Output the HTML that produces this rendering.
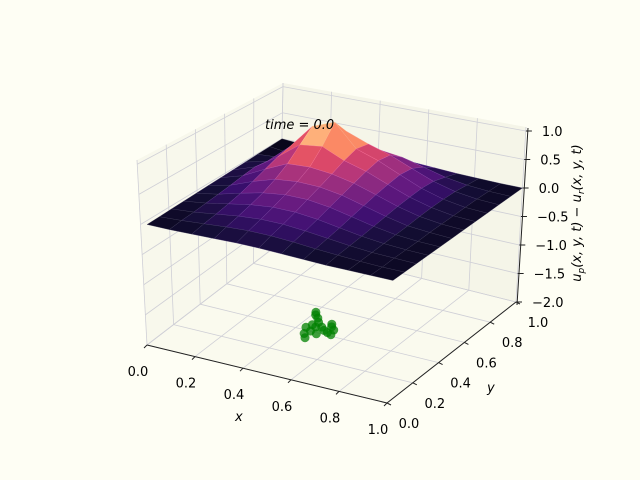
<!DOCTYPE html>
<html><head><meta charset="utf-8"><style>
html,body{margin:0;padding:0;background:#fefef4;}
svg{display:block;font-family:"DejaVu Sans","Liberation Sans",sans-serif;}
</style></head><body>
<svg id="chart" width="640" height="480" viewBox="0 0 640 480" xmlns="http://www.w3.org/2000/svg">
<rect width="640" height="480" fill="#fefef4"/>
<g id="panes"></g>
<g id="grid"></g>
<g id="points"></g>
<g id="surface"></g>
<g id="axes"></g>
<text x="265" y="129" font-size="13" font-style="italic">time = 0.0</text>
<text x="235" y="421" font-size="13" font-style="italic">x</text>
<text x="487" y="392" font-size="13" font-style="italic">y</text>
<text transform="translate(581,213) rotate(-90)" text-anchor="middle" font-size="13" font-style="italic">u<tspan font-size="9" dy="3">p</tspan><tspan dy="-3">(x, y, t) − u</tspan><tspan font-size="9" dy="3">r</tspan><tspan dy="-3">(x, y, t)</tspan></text>
</svg>
<script>
const xTicks=[0,0.2,0.4,0.6,0.8,1.0];
const yTicks=[0,0.2,0.4,0.6,0.8,1.0];
const zTicks=[-2.0,-1.5,-1.0,-0.5,0.0,0.5,1.0];
const gridX=[0,0.0909,0.1818,0.2727,0.3636,0.4545,0.5455,0.6364,0.7273,0.8182,0.9091,1];
const gridY=[0,0.0909,0.1818,0.2727,0.3636,0.4545,0.5455,0.6364,0.7273,0.8182,0.9091,1];
const surfZ=[
[0,0,0.01,0.02,0.03,0.03,0.02,0.01,0,0,0,0],
[0,0.02,0.05,0.08,0.10,0.10,0.08,0.05,0.03,0.01,0,0],
[0,0.03,0.08,0.13,0.16,0.16,0.13,0.09,0.05,0.02,0.01,0],
[0,0.05,0.12,0.19,0.23,0.23,0.19,0.13,0.07,0.03,0.01,0],
[0,0.07,0.17,0.26,0.31,0.31,0.26,0.18,0.10,0.04,0.01,0],
[0,0.09,0.24,0.36,0.40,0.39,0.33,0.23,0.13,0.05,0.02,0],
[0,0.12,0.32,0.50,0.52,0.48,0.40,0.28,0.16,0.07,0.02,0],
[0,0.14,0.40,0.70,0.75,0.58,0.47,0.32,0.18,0.08,0.02,0],
[0,0.10,0.45,0.90,1.05,0.65,0.52,0.35,0.19,0.08,0.02,0],
[0,0.03,0.30,0.65,0.75,0.60,0.48,0.32,0.17,0.07,0.02,0],
[0,-0.05,0.10,0.30,0.38,0.35,0.30,0.20,0.10,0.04,0.01,0],
[0,-0.03,0,0.06,0.08,0.08,0.06,0.04,0.02,0.01,0,0]];
const ptX=[0.40,0.41,0.43,0.45,0.44,0.46,0.48,0.50,0.52,0.54,0.47,0.45,0.49,0.51,0.43,0.46,0.50,0.53];
const ptY=[0.57,0.55,0.53,0.50,0.47,0.46,0.47,0.45,0.44,0.43,0.36,0.39,0.41,0.49,0.44,0.42,0.51,0.47];

const NS="http://www.w3.org/2000/svg";
const ZLO=-2.0, ZHI=1.07;
const F00=[147,345],F10=[387,403],F01=[280,243],F11=[516,302];
const T00=[137,160],T10=[378,200],T01=[283,83],T11=[526,127];
const S00=[147,160],S10=[396,215],S01=[283,83],S11=[526,127];
function bil(a,b,c,d,u,v){const p0=[a[0]+(b[0]-a[0])*u,a[1]+(b[1]-a[1])*u];const p1=[c[0]+(d[0]-c[0])*u,c[1]+(d[1]-c[1])*u];return [p0[0]+(p1[0]-p0[0])*v,p0[1]+(p1[1]-p0[1])*v];}
function P(u,v,w){const f=bil(F00,F10,F01,F11,u,v),t=bil(T00,T10,T01,T11,u,v);return [f[0]+(t[0]-f[0])*w,f[1]+(t[1]-f[1])*w];}
function PS(u,v,w){const f=bil(F00,F10,F01,F11,u,v),t=bil(S00,S10,S01,S11,u,v);return [f[0]+(t[0]-f[0])*w,f[1]+(t[1]-f[1])*w];}
function W(z){return (z-ZLO)/(ZHI-ZLO);}
function poly(g,pts,fill,stroke,sw,name){const e=document.createElementNS(NS,'polygon');e.setAttribute('points',pts.map(p=>p[0].toFixed(1)+','+p[1].toFixed(1)).join(' '));e.setAttribute('fill',fill);e.setAttribute('stroke',stroke);e.setAttribute('stroke-width',sw);


g.appendChild(e);return e;}
function line(g,a,b,col,sw,name){const e=document.createElementNS(NS,'line');e.setAttribute('x1',a[0]);e.setAttribute('y1',a[1]);e.setAttribute('x2',b[0]);e.setAttribute('y2',b[1]);e.setAttribute('stroke',col);e.setAttribute('stroke-width',sw);


g.appendChild(e);}
function text(g,x,y,s,anchor,name){const e=document.createElementNS(NS,'text');e.setAttribute('x',x);e.setAttribute('y',y);e.setAttribute('font-size','13');e.setAttribute('text-anchor',anchor);e.textContent=s;


g.appendChild(e);}

const panes=document.getElementById('panes');
poly(panes,[P(0,0,0),P(0,1,0),P(0,1,1),P(0,0,1)],'#f8f8ec','none',0,'left-pane');
poly(panes,[P(0,1,0),P(1,1,0),P(1,1,1),P(0,1,1)],'#f5f5e8','none',0,'back-pane');
poly(panes,[P(0,0,0),P(1,0,0),P(1,1,0),P(0,1,0)],'#fafaee','none',0,'floor-pane');
const grid=document.getElementById('grid');
const gc='#cfcfd6';
xTicks.forEach(t=>{line(grid,P(t,0,0),P(t,1,0),gc,0.8,'x-grid-floor');line(grid,P(t,1,0),P(t,1,1),gc,0.8,'x-grid-back');});
yTicks.forEach(t=>{line(grid,P(0,t,0),P(1,t,0),gc,0.8,'y-grid-floor');line(grid,P(0,t,0),P(0,t,1),gc,0.8,'y-grid-left');});
zTicks.forEach(z=>{const w=W(z);line(grid,P(0,0,w),P(0,1,w),gc,0.8,'z-grid-left');line(grid,P(0,1,w),P(1,1,w),gc,0.8,'z-grid-back');});

const pts=document.getElementById('points');
ptX.forEach((x,i)=>{const p=P(x,ptY[i],0);const c=document.createElementNS(NS,'circle');c.setAttribute('cx',p[0]-2);c.setAttribute('cy',p[1]+2);c.setAttribute('r',4.5);c.setAttribute('fill','#008000');c.setAttribute('fill-opacity','0.75');


pts.appendChild(c);});

const magma=[[0,0,0,4],[.1,20,14,54],[.2,59,15,112],[.3,100,26,128],[.4,140,41,129],[.5,183,55,121],[.6,222,73,104],[.7,247,112,92],[.8,254,159,109],[.9,254,207,146],[1,252,253,191]];
function cmap(t){t=Math.max(0,Math.min(1,t));for(let i=1;i<magma.length;i++){if(t<=magma[i][0]){const a=magma[i-1],b=magma[i],f=(t-a[0])/(b[0]-a[0]);return [0,1,2].map(k=>Math.round(a[k+1]+(b[k+1]-a[k+1])*f));}}return magma[magma.length-1].slice(1);}
const surf=document.getElementById('surface');
const cells=[];
for(let j=0;j<gridY.length-1;j++)for(let i=0;i<gridX.length-1;i++){
 const u0=gridX[i],u1=gridX[i+1],v0=gridY[j],v1=gridY[j+1];
 const z00=surfZ[j][i],z10=surfZ[j][i+1],z01=surfZ[j+1][i],z11=surfZ[j+1][i+1];
 const zm=(z00+z10+z01+z11)/4;
 const depth=0.5*(u0+u1)/2-0.87*(v0+v1)/2;
 cells.push({depth,zm,pts:[PS(u0,v0,W(z00)),PS(u1,v0,W(z10)),PS(u1,v1,W(z11)),PS(u0,v1,W(z01))]});}
cells.sort((a,b)=>a.depth-b.depth);
cells.forEach(c=>{const col=cmap((c.zm+0.07)/1.1);poly(surf,c.pts,'rgb('+col.join(',')+')','rgba('+col.map(v=>Math.min(255,v+50)).join(',')+',0.6)',0.5,'surface-cell');});

const axes=document.getElementById('axes');
line(axes,P(0,0,0),P(1,0,0),'#222',1,'x-axis-line');
line(axes,P(1,0,0),P(1,1,0),'#222',1,'y-axis-line');
line(axes,[517,305],[528,128],'#222',1,'z-axis-line');
xTicks.forEach(t=>{const p=P(t,0,0);line(axes,p,[p[0]-3,p[1]+3],'#222',1,'x-tick');text(axes,p[0]-9,p[1]+31,t.toFixed(1),'middle','x-tick-label');});
yTicks.forEach(t=>{const p=P(1,t,0);line(axes,p,[p[0]+4,p[1]+2],'#222',1,'y-tick');text(axes,p[0]+22,p[1]+25,t.toFixed(1),'middle','y-tick-label');});
zTicks.forEach(z=>{const y=302-(z+2)*57;const x=519+(z+2)*3.3;line(axes,[x-3,y],[x+3,y],'#222',1,'z-tick');text(axes,x+13,y+5,z.toFixed(1).replace('-','−'),'start','z-tick-label');});
</script>
</body></html>
